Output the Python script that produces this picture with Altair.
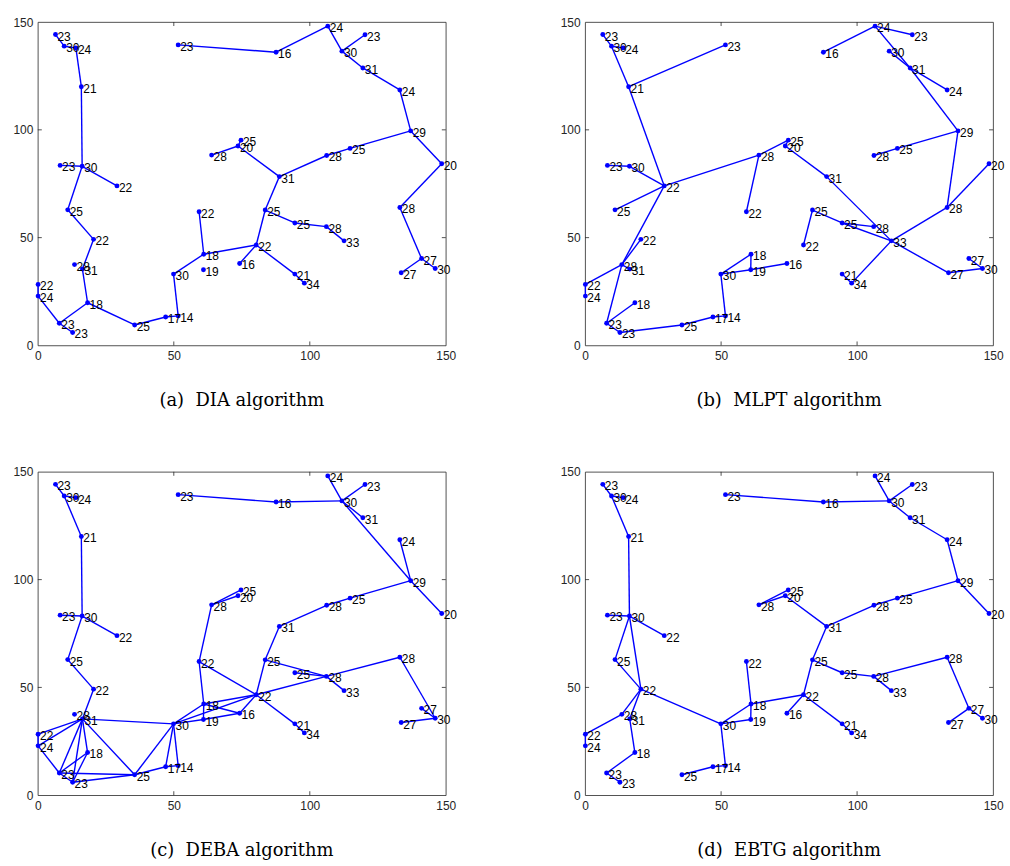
import altair as alt
import pandas as pd

# Node coordinates (shared by all four panels) and their labels
xs = [6.5, 9.7, 14.0, 16.0, 51.6, 87.6, 106.6, 120.3, 111.8, 119.5,
      133.1, 137.1, 148.5, 114.8, 106.2, 88.8, 74.7, 73.6, 63.9, 8.2,
      16.3, 29.1, 11.0, 20.5, 13.5, 16.4, 0.1, 0.1, 18.3, 7.9,
      12.8, 35.6, 47.0, 51.6, 49.9, 59.3, 61.0, 60.9, 74.2, 83.6,
      94.5, 106.1, 112.6, 80.3, 94.5, 98.0, 133.1, 141.1, 133.6, 146.1]
ys = [144.2, 138.8, 138.0, 120.0, 139.4, 136.0, 148.1, 144.1, 136.5, 128.7,
      118.5, 99.5, 84.3, 91.4, 88.1, 78.3, 95.2, 92.5, 88.3, 83.5,
      83.1, 74.0, 62.9, 49.2, 37.5, 35.4, 28.3, 22.9, 19.8, 10.3,
      6.0, 9.5, 13.2, 13.7, 33.1, 62.0, 42.3, 35.1, 38.0, 62.8,
      56.8, 55.1, 48.5, 46.6, 33.1, 28.9, 64.0, 40.3, 33.7, 35.7]
labels = ["23", "30", "24", "21", "23", "16", "24", "23", "30", "31",
          "24", "29", "20", "25", "28", "31", "25", "20", "28", "23",
          "30", "22", "25", "22", "28", "31", "22", "24", "18", "23",
          "23", "25", "17", "14", "30", "22", "18", "19", "16", "25",
          "25", "28", "33", "22", "21", "34", "28", "27", "27", "30"]

# Edges (1-based node numbers) for each algorithm
edges_dia = [(1, 2), (2, 3), (3, 4), (4, 21), (20, 21), (21, 22), (21, 23), (5, 6), (6, 7),
             (7, 9), (9, 8), (9, 10), (10, 11), (11, 12), (12, 14), (14, 15), (15, 16),
             (16, 18), (18, 19), (17, 18), (12, 13), (13, 47), (16, 40), (23, 24), (24, 26),
             (26, 29), (27, 28), (28, 30), (30, 29), (30, 31), (29, 32), (32, 33), (33, 34),
             (34, 35), (35, 37), (37, 36), (37, 44), (44, 39), (44, 40), (40, 41), (41, 42),
             (42, 43), (44, 45), (45, 46), (47, 48), (48, 50), (48, 49)]
edges_mlpt = [(1, 2), (2, 3), (2, 4), (4, 5), (4, 22), (20, 21), (21, 22), (22, 19), (19, 17),
              (19, 36), (17, 18), (18, 16), (6, 7), (7, 8), (7, 10), (9, 10), (10, 11), (10, 12),
              (15, 14), (14, 12), (12, 47), (13, 47), (16, 43), (22, 23), (22, 25), (24, 25),
              (25, 26), (25, 27), (27, 28), (25, 30), (30, 29), (30, 31), (31, 32), (32, 33),
              (33, 34), (34, 35), (35, 37), (37, 38), (35, 38), (38, 39), (44, 40), (40, 41),
              (41, 42), (41, 43), (43, 47), (43, 46), (46, 45), (43, 49), (49, 50), (50, 48)]
edges_deba = [(1, 2), (2, 3), (2, 4), (4, 21), (20, 21), (21, 22), (21, 23), (23, 24), (24, 26),
              (26, 27), (26, 28), (27, 28), (28, 30), (26, 30), (26, 31), (26, 29), (30, 29),
              (31, 29), (30, 31), (30, 32), (31, 32), (26, 32), (26, 35), (32, 35), (32, 33),
              (33, 34), (33, 35), (34, 35), (35, 37), (35, 38), (35, 44), (37, 38), (37, 44),
              (37, 39), (38, 39), (36, 37), (36, 44), (44, 39), (36, 19), (19, 17), (19, 18),
              (5, 6), (6, 9), (9, 7), (9, 8), (9, 10), (9, 12), (12, 11), (12, 13), (12, 14),
              (14, 15), (15, 16), (16, 40), (40, 44), (40, 42), (41, 42), (42, 43), (44, 42),
              (42, 47), (44, 45), (45, 46), (47, 50), (50, 48), (50, 49)]
edges_ebtg = [(1, 2), (2, 3), (2, 4), (4, 21), (20, 21), (21, 22), (21, 23), (21, 24), (23, 24),
              (24, 25), (24, 26), (25, 27), (27, 28), (26, 29), (29, 30), (30, 31), (24, 35),
              (35, 34), (34, 33), (33, 32), (35, 37), (35, 38), (37, 38), (37, 36), (37, 44),
              (44, 39), (5, 6), (6, 9), (9, 7), (9, 8), (9, 10), (10, 11), (11, 12), (12, 13),
              (12, 14), (14, 15), (15, 16), (16, 18), (19, 18), (19, 17), (16, 40), (40, 44),
              (40, 41), (41, 42), (42, 43), (42, 47), (47, 48), (48, 50), (48, 49), (44, 45),
              (45, 46)]

NB = "\u00a0\u00a0"
captions = ["(a)" + NB + "DIA algorithm", "(b)" + NB + "MLPT algorithm",
            "(c)" + NB + "DEBA algorithm", "(d)" + NB + "EBTG algorithm"]
tick_values = [0, 50, 100, 150]
inner_ticks = [50, 100]

W, H = 410, 325
BLUE = "#0000FF"
AXIS_COLOR = "#262626"

nodes = pd.DataFrame({"x": xs, "y": ys, "label": labels})
ticks_df = pd.DataFrame({"v": inner_ticks})

xscale = alt.Scale(domain=[0, 150], nice=False, zero=False)
yscale = alt.Scale(domain=[0, 150], nice=False, zero=False)
xaxis = alt.Axis(values=tick_values, ticks=False, domain=False, grid=False, title=None,
                 labelFont="Liberation Sans", labelFontSize=12, labelColor=AXIS_COLOR,
                 labelPadding=5, labelFlush=False)
yaxis = alt.Axis(values=tick_values, ticks=False, domain=False, grid=False, title=None,
                 labelFont="Liberation Sans", labelFontSize=12, labelColor=AXIS_COLOR,
                 labelPadding=5)


def panel(edges, caption):
    rows = []
    for k, (i, j) in enumerate(edges):
        rows.append({"e": k, "o": 0, "x": xs[i - 1], "y": ys[i - 1]})
        rows.append({"e": k, "o": 1, "x": xs[j - 1], "y": ys[j - 1]})
    edf = pd.DataFrame(rows)
    lines = alt.Chart(edf).mark_line(color=BLUE, strokeWidth=1.4).encode(
        x=alt.X("x:Q", scale=xscale, axis=xaxis),
        y=alt.Y("y:Q", scale=yscale, axis=yaxis),
        detail="e:N",
        order="o:Q",
    )
    pts = alt.Chart(nodes).mark_circle(color=BLUE, size=24, opacity=1).encode(
        x=alt.X("x:Q", scale=xscale),
        y=alt.Y("y:Q", scale=yscale),
    )
    txt = alt.Chart(nodes).mark_text(align="left", baseline="middle", dx=2, dy=2,
                                      font="Liberation Sans", fontSize=12,
                                      color="black").encode(
        x=alt.X("x:Q", scale=xscale),
        y=alt.Y("y:Q", scale=yscale),
        text="label:N",
    )
    tb = alt.Chart(ticks_df).mark_rule(color=AXIS_COLOR, strokeWidth=0.8).encode(
        x=alt.X("v:Q", scale=xscale), y=alt.value(H), y2=alt.value(H - 4))
    tt = alt.Chart(ticks_df).mark_rule(color=AXIS_COLOR, strokeWidth=0.8).encode(
        x=alt.X("v:Q", scale=xscale), y=alt.value(0), y2=alt.value(4))
    tl = alt.Chart(ticks_df).mark_rule(color=AXIS_COLOR, strokeWidth=0.8).encode(
        y=alt.Y("v:Q", scale=yscale), x=alt.value(0), x2=alt.value(4))
    tr = alt.Chart(ticks_df).mark_rule(color=AXIS_COLOR, strokeWidth=0.8).encode(
        y=alt.Y("v:Q", scale=yscale), x=alt.value(W), x2=alt.value(W - 4))
    return alt.layer(lines, pts, txt, tb, tt, tl, tr).properties(
        width=W, height=H,
        title=alt.TitleParams(caption, orient="bottom", anchor="middle",
                              font="DejaVu Serif", fontSize=18, fontWeight="normal",
                              color="black", offset=31),
    )


pa = panel(edges_dia, captions[0])
pb = panel(edges_mlpt, captions[1])
pc = panel(edges_deba, captions[2])
pd_ = panel(edges_ebtg, captions[3])

chart = alt.concat(
    pa, pb, pc, pd_, columns=2,
    spacing={"row": 127, "column": 140}, bounds="flush",
).properties(
    padding={"left": 12, "top": 13, "right": 5, "bottom": 5},
    background="white",
).configure_view(
    stroke=AXIS_COLOR, strokeWidth=0.8, fill="white"
)

chart.save("out.html", embed_options={"renderer": "svg", "actions": False})
